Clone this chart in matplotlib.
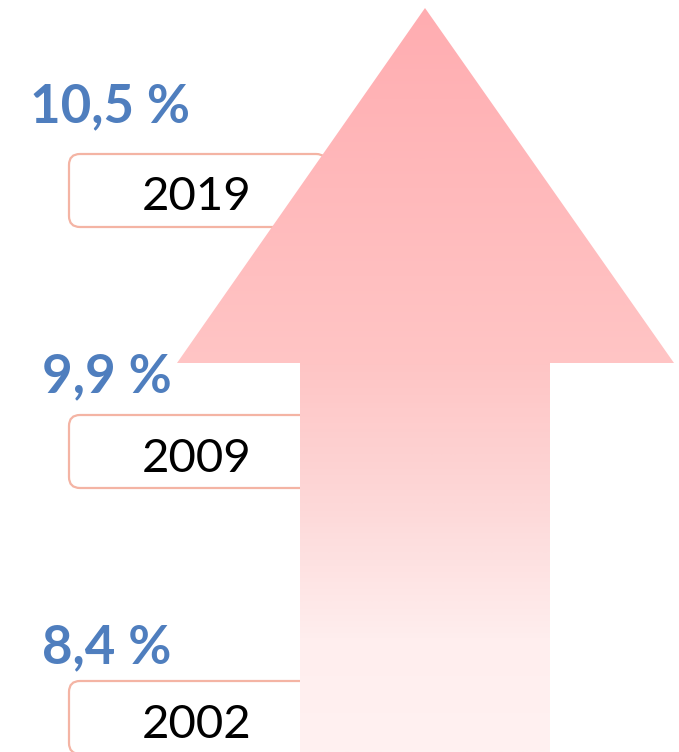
import matplotlib
matplotlib.use("Agg")
import matplotlib.pyplot as plt
import numpy as np
from matplotlib.patches import FancyBboxPatch, Polygon
from matplotlib.colors import LinearSegmentedColormap

years = ["2019", "2009", "2002"]
shares = ["10,5 %", "9,9 %", "8,4 %"]

W, H = 679, 752
fig = plt.figure(figsize=(W / 100, H / 100), dpi=100)
ax = fig.add_axes([0, 0, 1, 1])
ax.set_xlim(0, W)
ax.set_ylim(H, 0)
ax.axis("off")

box_tops = [154, 415, 681]
year_base = [210, 472, 738]
pct_base = [122, 392, 663]
pct_x = [30, 42, 42]
for yr, pc, bt, yb, pb, px in zip(years, shares, box_tops, year_base, pct_base, pct_x):
    box = FancyBboxPatch((69, bt), 258, 73, boxstyle="round,pad=0,rounding_size=11",
                         fc="white", ec="#F4B4A4", lw=1.6, zorder=1)
    ax.add_patch(box)
    ax.text(197, yb, yr, ha="center", va="baseline", fontsize=34, fontweight="normal",
            family="Lato", color="black", zorder=2)
    ax.text(px, pb, pc, ha="left", va="baseline", fontsize=38, fontweight="bold",
            family="Lato", color="#4F7EBE", zorder=2)

# Gradient arrow
verts = [(425, 8), (674, 363), (550, 363), (550, 752), (300, 752), (300, 363), (177, 363)]
poly = Polygon(verts, closed=True, fc="none", ec="none", zorder=3)
ax.add_patch(poly)
cmap = LinearSegmentedColormap.from_list(
    "g", [(0.0, "#FFADB1"), (0.48, "#FFC5C5"), (0.65, "#FDD6D6"), (0.85, "#FFEEEE"), (1.0, "#FFF1F1")])
grad = np.linspace(0, 1, 500).reshape(-1, 1)
im = ax.imshow(grad, cmap=cmap, extent=[177, 674, 752, 8], aspect="auto", zorder=3)
im.set_clip_path(poly)
ax.set_xlim(0, W)
ax.set_ylim(H, 0)

fig.savefig("out.png", dpi=100)
